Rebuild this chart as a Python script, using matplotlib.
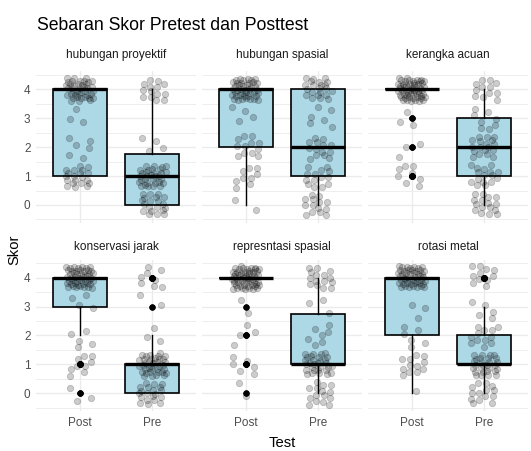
import matplotlib
matplotlib.use("Agg")
import matplotlib.pyplot as plt
import numpy as np

facets = ["hubungan proyektif", "hubungan spasial", "kerangka acuan",
          "konservasi jarak", "represntasi spasial", "rotasi metal"]
tests = ["Post", "Pre"]
score_levels = [0, 1, 2, 3, 4]
# number of students per score (0..4) for each facet
post_counts = [[0, 20, 6, 3, 41],
               [2, 9, 12, 4, 43],
               [0, 8, 3, 3, 56],
               [3, 9, 5, 4, 49],
               [2, 6, 4, 2, 56],
               [1, 12, 6, 3, 48]]
pre_counts = [[20, 32, 4, 0, 14],
              [14, 14, 14, 6, 22],
              [16, 16, 18, 8, 12],
              [20, 37, 3, 2, 8],
              [15, 30, 7, 3, 15],
              [14, 28, 12, 5, 11]]

plt.rcParams['font.family'] = ['Liberation Sans', 'DejaVu Sans']

W, H = 531, 451
fig = plt.figure(figsize=(W / 100, H / 100), dpi=100)
lefts = [36, 202, 368]
pw = 160
tops = [71.4, 259.7]
ph = 151.5
strip_y = [55, 247]

g = 1.32471795724
a1, a2 = 1 / g, 1 / g ** 2


def expand(counts):
    return np.repeat(score_levels, counts).astype(float)


for k, name in enumerate(facets):
    r, c = divmod(k, 3)
    ax = fig.add_axes([lefts[c] / W, 1 - (tops[r] + ph) / H, pw / W, ph / H])

    groups = [expand(post_counts[k]), expand(pre_counts[k])]
    ax.boxplot(groups, positions=[1, 2], widths=0.74, patch_artist=True,
               showcaps=False,
               boxprops=dict(facecolor='#ADD8E6', edgecolor='black', linewidth=1.2),
               medianprops=dict(color='black', linewidth=2.4, solid_capstyle='butt'),
               whiskerprops=dict(color='black', linewidth=1.0),
               flierprops=dict(marker='o', markerfacecolor='black',
                               markeredgecolor='none', markersize=4.5),
               zorder=2)
    for j, vals in enumerate(groups):
        idx = np.arange(len(vals))
        base = 0.13 * k + 0.37 * j
        dx = 0.19 * (2 * ((base + idx * a1) % 1.0) - 1)
        dy = 0.4 * (2 * ((base * 1.7 + 0.5 + idx * a2) % 1.0) - 1)
        ax.plot(j + 1 + dx, vals + dy, 'o', color='black', alpha=0.2,
                ms=4.6, mew=0.6, mec='black', zorder=3)

    ax.set_xlim(0.4, 2.6)
    ax.set_ylim(-0.62, 4.62)
    ax.set_yticks([0, 1, 2, 3, 4])
    ax.set_yticklabels(["0", "1", "2", "3", "4"])
    ax.set_yticks(np.arange(-0.5, 4.6, 1.0), minor=True)
    ax.set_xticks([1, 2])
    ax.set_xticklabels(tests)
    ax.grid(which='major', color='#EBEBEB', lw=1.0)
    ax.grid(which='minor', axis='y', color='#EBEBEB', lw=0.6)
    ax.set_axisbelow(True)
    for s in ax.spines.values():
        s.set_visible(False)
    ax.tick_params(which='both', length=0, labelsize=8.5, colors='#4D4D4D',
                   labelleft=(c == 0), labelbottom=(r == 1), pad=4)

    fig.text((lefts[c] + pw / 2) / W, 1 - strip_y[r] / H, name,
             ha='center', va='center', fontsize=8.5, color='#1A1A1A')

fig.text(37 / W, 1 - 25 / H, "Sebaran Skor Pretest dan Posttest",
         ha='left', va='center', fontsize=12.7, color='black')
fig.text(14 / W, 1 - 250 / H, "Skor", rotation=90, ha='center', va='center',
         fontsize=10.6, color='black')
fig.text(282 / W, 1 - 443 / H, "Test", ha='center', va='center',
         fontsize=10.6, color='black')

fig.savefig("out.png", dpi=100)
